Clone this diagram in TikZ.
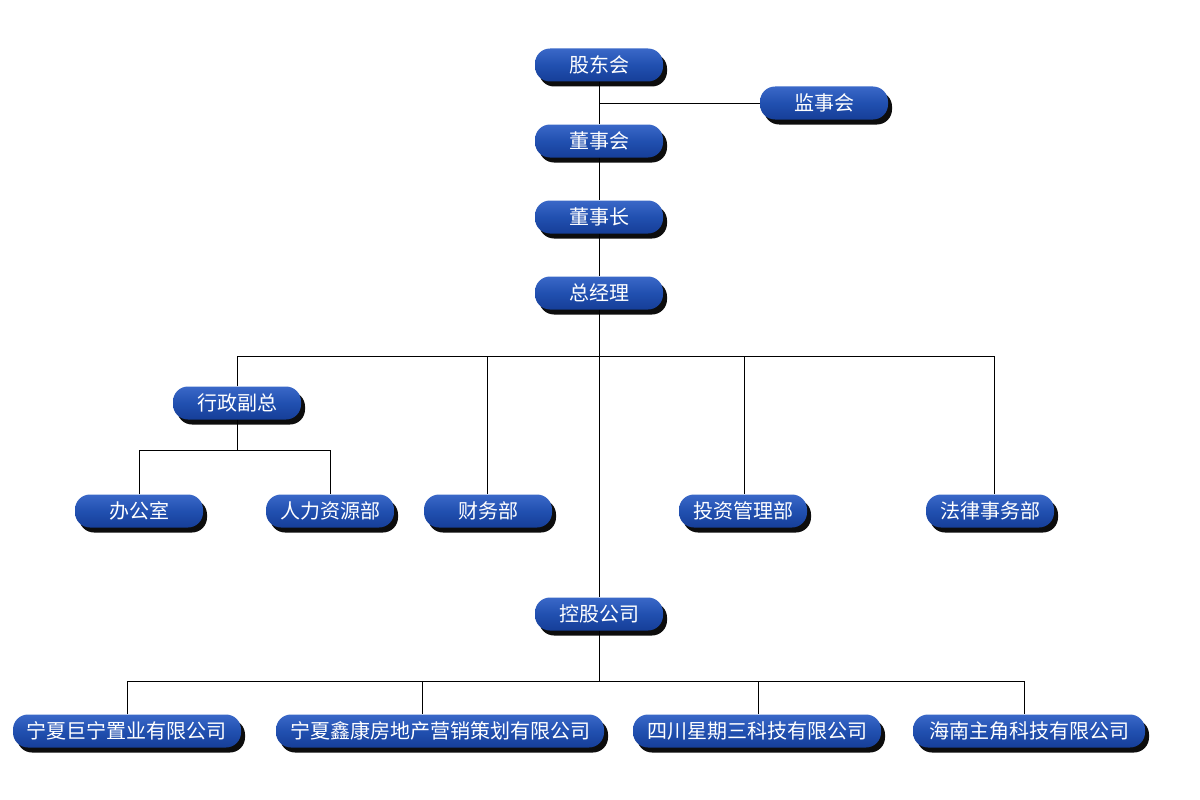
\documentclass[tikz,border=0pt]{standalone}
\usepackage{fontspec}
\setmainfont{Noto Sans CJK SC}
\usetikzlibrary{shadows}
\definecolor{btop}{HTML}{3A68C8}
\definecolor{bmid}{HTML}{2150B0}
\definecolor{bbot}{HTML}{163E98}
\tikzset{
  box/.style={rounded corners=15pt, minimum height=33pt, minimum width=128pt, inner xsep=14pt,
    top color=btop, bottom color=bbot, middle color=bmid,
    text=white, font=\fontsize{20}{23}\selectfont,
    drop shadow={shadow xshift=4pt, shadow yshift=-5pt, fill=black, opacity=0.95}},
  ln/.style={draw=black, line width=0.8pt}
}
\begin{document}
\begin{tikzpicture}[x=1pt,y=-1pt]
\useasboundingbox[fill=white] (0,0) rectangle (1200,800);
\node[box] (gd) at (599,65) {股东会};
\node[box] (js) at (824,103) {监事会};
\node[box] (dsh) at (599,141) {董事会};
\node[box] (dsz) at (599,217) {董事长};
\node[box] (zjl) at (599,293) {总经理};
\node[box] (xz) at (237,403) {行政副总};
\node[box] (bgs) at (139,511) {办公室};
\node[box,inner xsep=8pt] (rl) at (330,511) {人力资源部};
\node[box] (cw) at (488,511) {财务部};
\node[box,inner xsep=8pt] (tz) at (743,511) {投资管理部};
\node[box,inner xsep=8pt] (fl) at (990,511) {法律事务部};
\node[box] (kg) at (599,614) {控股公司};
\node[box,inner xsep=14pt] (c1) at (127,731) {宁夏巨宁置业有限公司};
\node[box,inner xsep=14pt] (c2) at (440,731) {宁夏鑫康房地产营销策划有限公司};
\node[box,inner xsep=14pt] (c3) at (757,731) {四川星期三科技有限公司};
\node[box,inner xsep=16pt] (c4) at (1029,731) {海南主角科技有限公司};
\coordinate (jsc) at (599,103);
\coordinate (b2) at (599,681);
\coordinate (xb) at (237,450);
\draw[ln] (gd.south) -- (dsh.north);
\draw[ln] (jsc) -- (js.west);
\draw[ln] (dsh.south) -- (dsz.north);
\draw[ln] (dsz.south) -- (zjl.north);
\draw[ln] (zjl.south) -- (kg.north);
\draw[ln] (xz.north) -- (237,356) -- (994,356) -- (994,511|-fl.north);
\draw[ln] (487,356) -- (487,511|-cw.north);
\draw[ln] (744,356) -- (744,511|-tz.north);
\draw[ln] (xz.south) -- (xb);
\draw[ln] (bgs.north) -- (139,450) -- (330,450) -- (rl.north);
\draw[ln] (kg.south) -- (b2);
\draw[ln] (c1.north) -- (127,681) -- (1024,681) -- (1024,681|-c4.north);
\draw[ln] (422,681) -- (422,681|-c2.north);
\draw[ln] (758,681) -- (758,681|-c3.north);
\end{tikzpicture}
\end{document}
